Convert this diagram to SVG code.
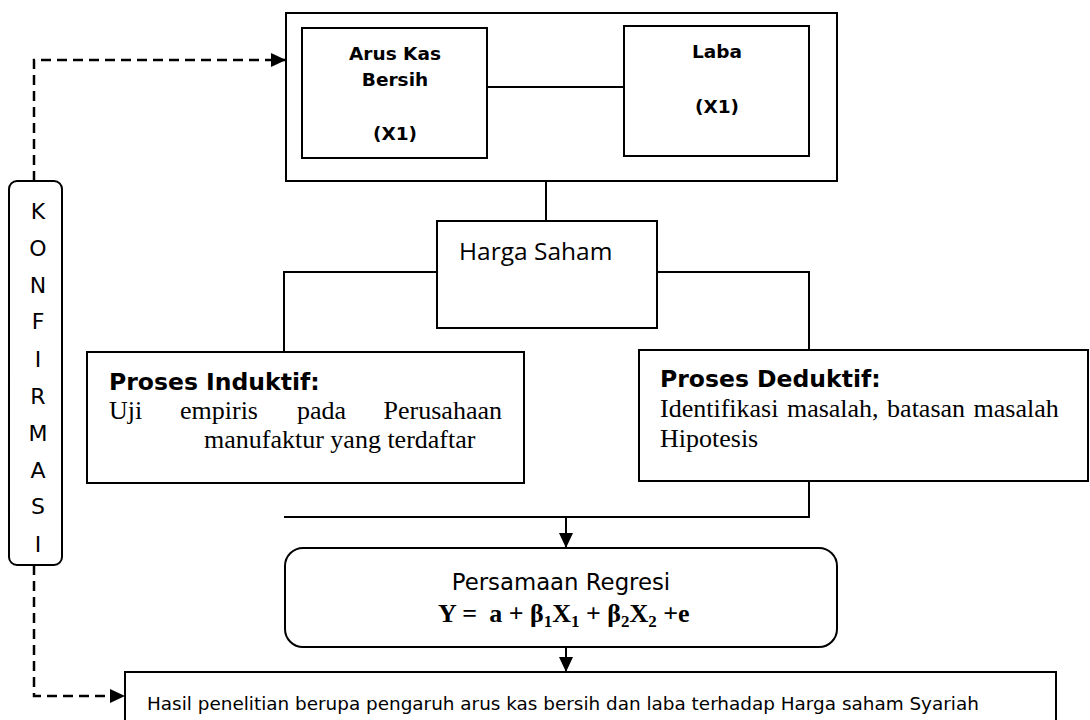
<svg xmlns="http://www.w3.org/2000/svg" width="1090" height="720" viewBox="0 0 1090 720">
<style>
.box{fill:#fff;stroke:#000;stroke-width:2}
.ln{fill:none;stroke:#000;stroke-width:2}
.dash{fill:none;stroke:#000;stroke-width:2.5;stroke-dasharray:10 6}
.vb{font-family:"DejaVu Sans",Verdana,sans-serif;font-weight:bold;fill:#000}
.v{font-family:"DejaVu Sans",Verdana,sans-serif;fill:#000}
.c{font-family:"Open Sans","Noto Sans",sans-serif;fill:#000}
.t{font-family:"Liberation Serif","Times New Roman",serif;fill:#000}
</style>
<defs>
<marker id="ah" markerUnits="userSpaceOnUse" markerWidth="16" markerHeight="14" refX="15" refY="7" orient="auto">
<path d="M0,0 L15,7 L0,14 z" fill="#000"/>
</marker>
</defs>
<rect width="1090" height="720" fill="#fff"/>
<g id="connectors">
<path class="dash" d="M34,181 V60 H286" marker-end="url(#ah)"/>
<path class="dash" d="M34,565 V696 H125" marker-end="url(#ah)"/>
<path class="ln" d="M546,181 V221"/>
<path class="ln" d="M437,272 H284 V352"/>
<path class="ln" d="M657,272 H809 V350"/>
<path class="ln" d="M809,481 V517 H284"/>
<path class="ln" d="M566,517 V548" marker-end="url(#ah)"/>
<path class="ln" d="M566,647 V672" marker-end="url(#ah)"/>
</g>
<g id="variabel">
<rect class="box" x="286" y="13" width="551" height="168"/>
<path class="ln" d="M487,87 H624"/>
</g>
<g id="arus-kas">
<rect class="box" x="302" y="28" width="185" height="130"/>
<text class="vb" font-size="18.5" text-anchor="middle"><tspan x="395" y="60">Arus Kas</tspan><tspan x="395" y="86">Bersih</tspan><tspan x="395" y="140">(X1)</tspan></text>
</g>
<g id="laba">
<rect class="box" x="624" y="26" width="185" height="130"/>
<text class="vb" font-size="18.5" text-anchor="middle"><tspan x="717" y="58">Laba</tspan><tspan x="717" y="113">(X1)</tspan></text>
</g>
<g id="harga-saham">
<rect class="box" x="437" y="221" width="220" height="107"/>
<text class="c" font-size="24.5" x="459" y="260">Harga Saham</text>
</g>
<g id="induktif">
<rect class="box" x="87" y="352" width="437" height="131"/>
<text class="vb" font-size="23.5" x="109" y="390">Proses Induktif:</text>
<text class="t" font-size="26" y="419"><tspan x="109">Uji</tspan><tspan x="180">empiris</tspan><tspan x="297">pada</tspan><tspan x="502" text-anchor="end">Perusahaan</tspan></text>
<text class="t" font-size="26" x="204" y="448">manufaktur yang terdaftar</text>
</g>
<g id="deduktif">
<rect class="box" x="639" y="350" width="449" height="131"/>
<text class="vb" font-size="23.5" x="660" y="387">Proses Deduktif:</text>
<text class="t" font-size="26" x="660" y="417" word-spacing="2">Identifikasi masalah, batasan masalah</text>
<text class="t" font-size="26" x="660" y="447">Hipotesis</text>
</g>
<g id="konfirmasi">
<rect class="box" x="9" y="181" width="53" height="384" rx="8"/>
<text class="v" font-size="22" text-anchor="middle"><tspan x="38" y="219">K</tspan><tspan x="38" y="256">O</tspan><tspan x="38" y="293">N</tspan><tspan x="38" y="329">F</tspan><tspan x="38" y="367">I</tspan><tspan x="38" y="404">R</tspan><tspan x="38" y="441">M</tspan><tspan x="38" y="478">A</tspan><tspan x="38" y="514">S</tspan><tspan x="38" y="552">I</tspan></text>
</g>
<g id="persamaan">
<rect class="box" x="285" y="548" width="552" height="99" rx="18"/>
<text class="v" font-size="22.8" x="561" y="590" text-anchor="middle">Persamaan Regresi</text>
<text class="t" font-size="26" font-weight="bold" x="438" y="622">Y =<tspan dx="12">a + β</tspan><tspan font-size="17" dy="5">1</tspan><tspan dy="-5">X</tspan><tspan font-size="17" dy="5">1</tspan><tspan dy="-5"> + β</tspan><tspan font-size="17" dy="5">2</tspan><tspan dy="-5">X</tspan><tspan font-size="17" dy="5">2</tspan><tspan dy="-5"> +e</tspan></text>
</g>
<g id="hasil">
<rect class="box" x="125" y="672" width="931" height="60"/>
<text class="v" font-size="18.4" x="147" y="710">Hasil penelitian berupa pengaruh arus kas bersih dan laba terhadap Harga saham Syariah</text>
</g>
</svg>
